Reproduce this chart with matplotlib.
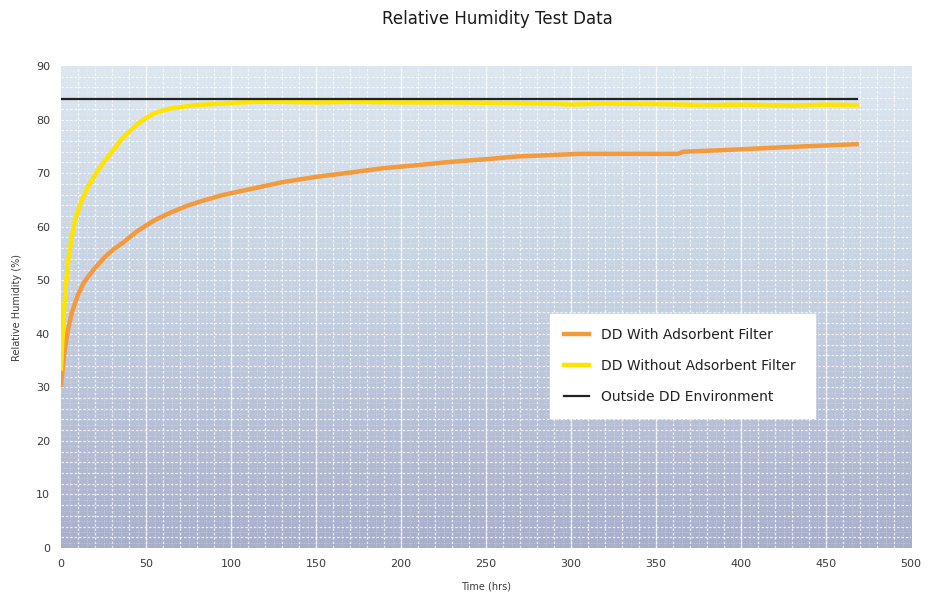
import numpy as np
import matplotlib.pyplot as plt
from matplotlib.colors import LinearSegmentedColormap

# --- data ---
t_with = [0, 2, 4, 6, 8, 10, 13, 16, 20, 26, 31, 36, 45, 55, 65, 75, 85, 95, 105, 114,
          130, 150, 170, 189, 210, 229, 250, 268, 290, 305, 335, 363, 366, 390, 423, 445, 468]
rh_with = [30.5, 36.5, 40.5, 43.5, 45.5, 47.3, 49.3, 50.7, 52.3, 54.4, 55.8, 56.9, 59.2, 61.2,
           62.7, 64.0, 65.0, 65.9, 66.6, 67.2, 68.3, 69.3, 70.1, 70.9, 71.5, 72.1, 72.6, 73.1,
           73.4, 73.6, 73.6, 73.6, 74.0, 74.3, 74.8, 75.1, 75.4]

t_without = [0, 1, 2, 3, 4.3, 6, 8.2, 12, 16, 21, 26, 31, 36, 41, 45.5, 50, 55, 60, 65, 72, 79,
             90, 100, 114, 130, 150, 170, 200, 230, 260, 290, 300, 320, 350, 380, 400, 430, 450, 468]
rh_without = [33.5, 40.0, 45.5, 49.5, 53.8, 57.5, 61.2, 64.8, 67.5, 70.2, 72.4, 74.4, 76.5, 78.0,
              79.3, 80.3, 81.2, 81.7, 82.1, 82.4, 82.7, 82.9, 83.1, 83.3, 83.3, 83.2, 83.3, 83.2,
              83.2, 83.1, 83.0, 82.8, 83.0, 82.9, 82.7, 82.8, 82.6, 82.8, 82.7]

t_outside = [0, 468]
rh_outside = [83.8, 83.8]

x_ticks = [0, 50, 100, 150, 200, 250, 300, 350, 400, 450, 500]
y_ticks = [0, 10, 20, 30, 40, 50, 60, 70, 80, 90]

txt = '#3a3a3a'

fig = plt.figure(figsize=(9.3, 5.98), dpi=100)
ax = fig.add_axes([0.0656, 0.0836, 0.9140, 0.806])

# gradient background
cmap = LinearSegmentedColormap.from_list('bg', ['#a8afcb', '#c4cfe0', '#dce7f0'])
grad = np.linspace(0, 1, 256).reshape(-1, 1)
ax.imshow(grad, cmap=cmap, origin='lower', aspect='auto',
          extent=[0, 500, 0, 90], zorder=0)

# fine textured grid
for x in np.arange(5, 500, 10):
    ax.axvline(x, color='white', lw=0.6, ls=(0, (1, 2)), alpha=0.4, zorder=1)
for y in np.arange(1, 90, 2):
    ax.axhline(y, color='white', lw=0.6, ls=(0, (1, 2)), alpha=0.4, zorder=1)
for x in np.arange(10, 500, 10):
    ax.axvline(x, color='white', lw=0.9, ls=(0, (2, 1.5)), alpha=0.75, zorder=1)
for y in np.arange(2, 90, 2):
    ax.axhline(y, color='white', lw=0.9, ls=(0, (2, 1.5)), alpha=0.75, zorder=1)
for x in np.arange(50, 500, 50):
    ax.axvline(x, color='white', lw=1.0, alpha=0.6, zorder=1)

ax.plot(t_with, rh_with, color='#f29a3c', lw=3.2, zorder=3,
        label='DD With Adsorbent Filter')
ax.plot(t_without, rh_without, color='#ffe400', lw=3.2, zorder=3,
        label='DD Without Adsorbent Filter')
ax.plot(t_outside, rh_outside, color='#222222', lw=1.6, zorder=4,
        label='Outside DD Environment')

ax.set_xlim(0, 500)
ax.set_ylim(0, 90)
ax.set_xticks(x_ticks)
ax.set_yticks(y_ticks)
ax.tick_params(length=0, labelsize=8, colors=txt, pad=8)
for s in ax.spines.values():
    s.set_visible(False)

ax.set_xlabel('Time (hrs)', fontsize=7, color=txt, labelpad=9)
ax.set_ylabel('Relative Humidity (%)', fontsize=7, color=txt, labelpad=10)
fig.text(0.535, 0.968, 'Relative Humidity Test Data', ha='center', va='center',
         fontsize=12, color='#1a1a1a')

leg = ax.legend(loc='lower left', bbox_to_anchor=(0.567, 0.27, 0.328, 0.22),
                mode='expand', frameon=True, fancybox=False, framealpha=1,
                edgecolor='white', facecolor='white', fontsize=10,
                handlelength=1.8, handletextpad=0.9,
                labelspacing=1.25, borderpad=1.0)
leg.set_bbox_to_anchor((0.567, 0.27 - 0.015, 0.328, 0.22), transform=ax.transAxes)
for t in leg.get_texts():
    t.set_color('#222222')

fig.savefig('out.png', dpi=100)
